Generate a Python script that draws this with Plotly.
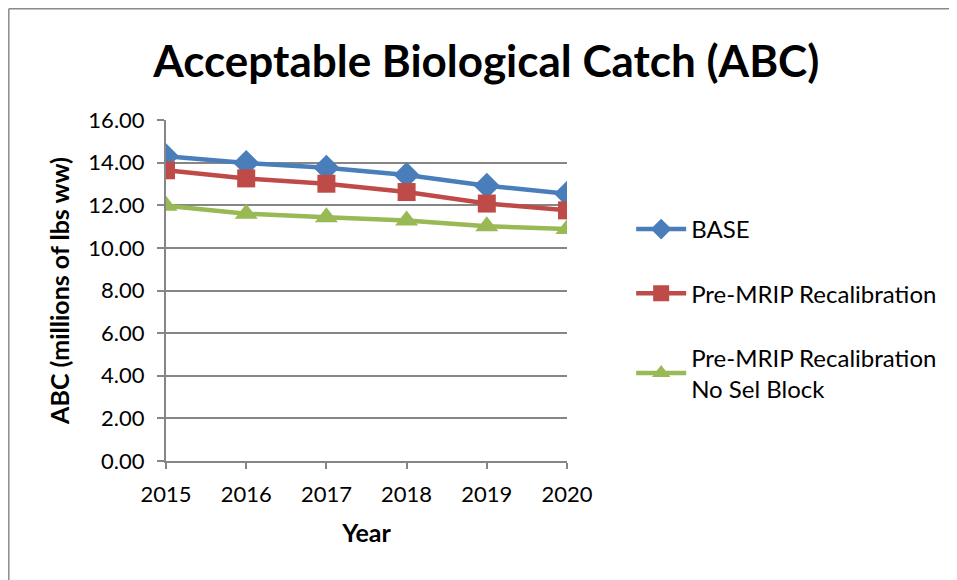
import plotly.graph_objects as go

years = [2015, 2016, 2017, 2018, 2019, 2020]
base = [14.30, 13.98, 13.76, 13.42, 12.92, 12.54]
pre_mrip = [13.64, 13.26, 13.01, 12.62, 12.08, 11.76]
pre_mrip_nosel = [11.98, 11.60, 11.44, 11.28, 11.02, 10.88]

series_names = ["BASE", "Pre-MRIP Recalibration", "Pre-MRIP Recalibration<br>No Sel Block"]
series_colors = ["#4A7EBB", "#BE4B48", "#98B954"]
series_symbols = ["diamond", "square", "triangle-up"]
series_sizes = [20, 18, 20]

font_family = "Lato, 'Open Sans', sans-serif"

fig = go.Figure()

for name, vals, col, sym, sz in zip(series_names, [base, pre_mrip, pre_mrip_nosel],
                                    series_colors, series_symbols, series_sizes):
    fig.add_trace(go.Scatter(x=years, y=vals, name=name, mode="lines+markers",
                             legendgroup=name,
                             line=dict(color=col, width=4.5),
                             marker=dict(symbol=sym, size=sz, color=col)))

# chart frame (top and left edges visible in the picture)
fig.add_shape(type="line", xref="paper", yref="paper", x0=-0.392, y0=-0.36, x1=-0.392, y1=1.326,
              line=dict(color="#8a8a8a", width=1.5))
fig.add_shape(type="line", xref="paper", yref="paper", x0=-0.392, y0=1.326, x1=1.98, y1=1.326,
              line=dict(color="#8a8a8a", width=1.5))

fig.update_layout(
    width=949, height=572,
    margin=dict(l=158, r=390, t=112, b=119),
    paper_bgcolor="white", plot_bgcolor="white",
    font=dict(family=font_family, size=22, color="black"),
    title=dict(text="<b>Acceptable Biological Catch (ABC)</b>", x=0.504, xanchor="center",
               y=0.906, yanchor="middle", font=dict(size=44, color="black")),
    showlegend=True,
    legend=dict(x=1.16, y=0.745, xanchor="left", yanchor="top", tracegroupgap=30,
                font=dict(size=24), itemwidth=50, bgcolor="rgba(0,0,0,0)"),
)

fig.update_xaxes(range=[2015, 2020], tickvals=years, showgrid=False,
                 showline=True, linecolor="#868686", linewidth=2,
                 ticks="outside", ticklen=6, tickcolor="#868686", tickwidth=2,
                 ticklabelstandoff=7,
                 title=dict(text="<b>Year</b>", font=dict(size=25), standoff=18),
                 tickfont=dict(size=22))
fig.update_yaxes(range=[0, 16], tickvals=[0, 2, 4, 6, 8, 10, 12, 14, 16], tickformat=".2f",
                 showgrid=True, gridcolor="#868686", gridwidth=1.5,
                 showline=True, linecolor="#868686", linewidth=2, zeroline=False,
                 ticks="outside", ticklen=7, tickcolor="#868686", tickwidth=2,
                 ticklabelstandoff=8,
                 title=dict(text="<b>ABC (millions of lbs ww)</b>", font=dict(size=25), standoff=12),
                 tickfont=dict(size=22))

fig.write_html("out.html")
